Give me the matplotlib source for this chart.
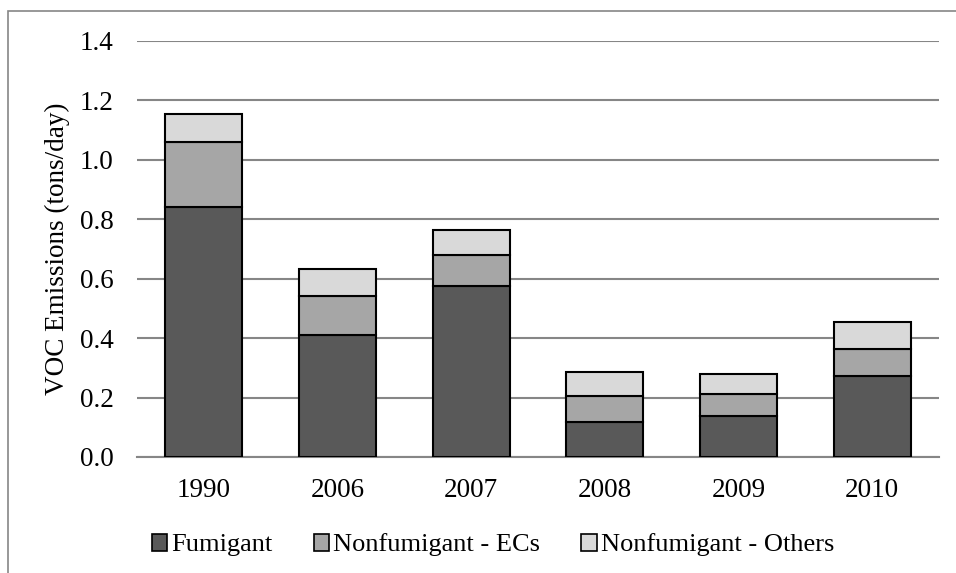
import matplotlib.pyplot as plt
import matplotlib.patches as mpatches
import numpy as np

plt.rcParams["font.family"] = ["Liberation Serif", "DejaVu Serif"]

years = ["1990", "2006", "2007", "2008", "2009", "2010"]
fumigant = [0.841, 0.412, 0.574, 0.118, 0.137, 0.271]
nonfum_ecs = [0.218, 0.131, 0.107, 0.088, 0.074, 0.091]
nonfum_others = [0.095, 0.091, 0.082, 0.079, 0.070, 0.091]

series = [
    ("Fumigant", fumigant, "#595959"),
    ("Nonfumigant - ECs", nonfum_ecs, "#a6a6a6"),
    ("Nonfumigant - Others", nonfum_others, "#d9d9d9"),
]

fig = plt.figure(figsize=(9.56, 5.73), dpi=100)
ax = fig.add_axes([137 / 956, 1 - 457 / 573, (939 - 137) / 956, (457 - 41) / 573])

x = np.arange(len(years))
bottom = np.zeros(len(years))
handles = []
for name, vals, color in series:
    ax.bar(x, vals, width=0.576, bottom=bottom, color=color,
           edgecolor="black", linewidth=1.5, zorder=3)
    bottom += np.array(vals)
    handles.append(mpatches.Patch(facecolor=color, edgecolor="black", linewidth=1.2, label=name))

ax.set_xlim(-0.5, len(years) - 0.5)
ax.set_ylim(0, 1.4)
ticks = np.arange(0, 1.41, 0.2)
ax.set_yticks(ticks)
ax.set_yticklabels([f"{v:.1f}" for v in ticks])
ax.set_xticks(x)
ax.set_xticklabels(years)
ax.tick_params(axis="both", length=0, labelsize=19.5, colors="black")
ax.tick_params(axis="y", pad=17)
ax.tick_params(axis="x", pad=15)
ax.yaxis.grid(True, color="#868686", linewidth=1.5)
ax.set_axisbelow(True)
for side in ["top", "right", "left"]:
    ax.spines[side].set_visible(False)
ax.spines["bottom"].set_color("#868686")
ax.spines["bottom"].set_linewidth(1.5)

ax.set_ylabel("VOC Emissions (tons/day)", fontsize=19.5)
ax.yaxis.set_label_coords(-67 / 802, 0.5)

fig.legend(handles=handles, loc="center", bbox_to_anchor=(493 / 956, 1 - 545 / 573),
           ncol=3, frameon=False, fontsize=19, handlelength=0.6, handleheight=0.6,
           handletextpad=0.15, columnspacing=1.55, borderaxespad=0)

# outer chart border (only left and top edges fall inside the image)
border = mpatches.Rectangle((8 / 956, -0.1), 1.2, 1 - 11 / 573 + 0.1,
                            transform=fig.transFigure, fill=False,
                            edgecolor="#868686", linewidth=1.2)
fig.patches.append(border)

fig.savefig("out.png", dpi=100)
